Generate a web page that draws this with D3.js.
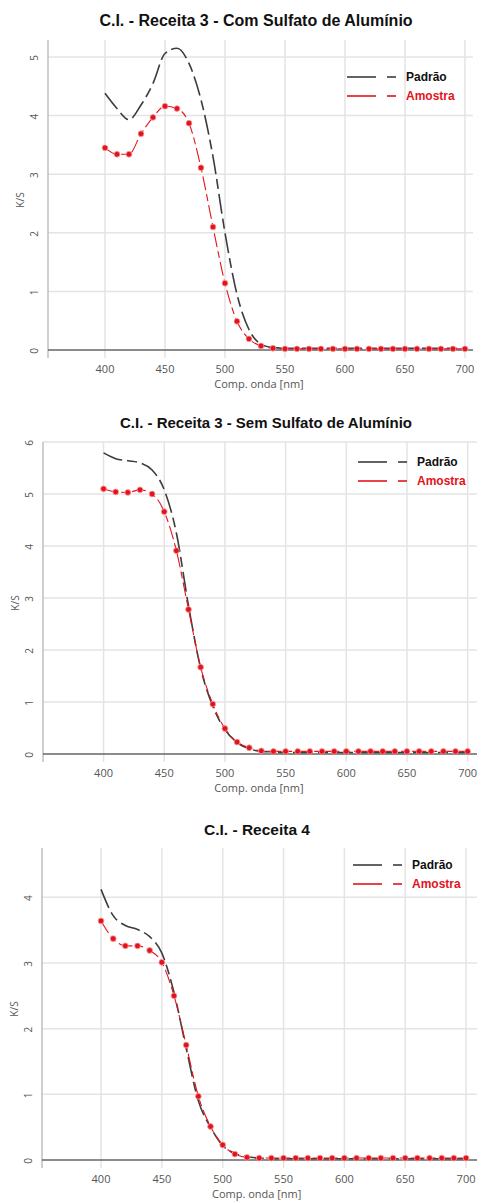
<!DOCTYPE html>
<html><head><meta charset="utf-8">
<script src="https://cdn.jsdelivr.net/npm/d3@7"></script>
<style>
body{margin:0;background:#fff;}
svg{display:block;}
</style></head>
<body>
<svg id="c" width="481" height="1203"></svg>
<script>
const wavelengths = d3.range(400, 701, 10);
const xTicks = [400, 450, 500, 550, 600, 650, 700];
const titles = ["C.I. - Receita 3 - Com Sulfato de Alumínio", "C.I. - Receita 3 - Sem Sulfato de Alumínio", "C.I. - Receita 4"];
const seriesNames = ["Padrão", "Amostra"];
const xLabel = "Comp. onda [nm]";
const yLabel = "K/S";

const padrao1 = [4.38,4.12,3.93,4.18,4.55,5.06,5.15,4.89,4.27,3.30,2.00,0.95,0.35,0.10,0.04,0.03,0.03,0.03,0.03,0.03,0.03,0.03,0.03,0.03,0.03,0.03,0.03,0.03,0.03,0.03,0.03];
const amostra1 = [3.45,3.34,3.34,3.69,3.97,4.16,4.12,3.87,3.11,2.10,1.14,0.49,0.19,0.07,0.03,0.02,0.02,0.02,0.02,0.02,0.02,0.02,0.02,0.02,0.02,0.02,0.02,0.02,0.02,0.02,0.02];
const yTicks1 = [0,1,2,3,4,5];

const padrao2 = [5.79,5.68,5.64,5.60,5.46,5.08,4.25,2.85,1.65,0.92,0.47,0.22,0.10,0.05,0.04,0.03,0.03,0.03,0.03,0.03,0.03,0.03,0.03,0.03,0.03,0.03,0.03,0.03,0.03,0.03,0.03];
const amostra2 = [5.10,5.04,5.03,5.08,5.00,4.66,3.91,2.78,1.67,0.96,0.49,0.23,0.12,0.06,0.05,0.05,0.05,0.05,0.05,0.05,0.05,0.05,0.05,0.05,0.05,0.05,0.05,0.05,0.05,0.05,0.05];
const yTicks2 = [0,1,2,3,4,5,6];

const padrao3 = [4.12,3.72,3.57,3.51,3.40,3.15,2.55,1.70,0.90,0.50,0.22,0.10,0.05,0.03,0.02,0.02,0.02,0.02,0.02,0.02,0.02,0.02,0.02,0.02,0.02,0.02,0.02,0.02,0.02,0.02,0.02];
const amostra3 = [3.64,3.37,3.26,3.26,3.19,3.01,2.50,1.75,0.97,0.51,0.23,0.09,0.04,0.03,0.03,0.03,0.03,0.03,0.03,0.03,0.03,0.03,0.03,0.03,0.03,0.03,0.03,0.03,0.03,0.03,0.03];
const yTicks3 = [0,1,2,3,4];

const charts = [
  {title: titles[0], padrao: padrao1, amostra: amostra1, yTicks: yTicks1,
   left: 48, right: 473, top: 40, zeroY: 350, xDom: [352.5, 706.7], yTop: 5.29,
   titleY: 26, titleX: 256, titleSize: 16, legX: 347, legY: 77},
  {title: titles[1], padrao: padrao2, amostra: amostra2, yTicks: yTicks2,
   left: 43, right: 477, top: 442, zeroY: 754, xDom: [350.1, 707.7], yTop: 6.0,
   titleY: 428, titleX: 266, titleSize: 15, legX: 358, legY: 462},
  {title: titles[2], padrao: padrao3, amostra: amostra3, yTicks: yTicks3,
   left: 42, right: 477, top: 848, zeroY: 1160, xDom: [351.5, 709], yTop: 4.75,
   titleY: 835, titleX: 257, titleSize: 15.5, legX: 353, legY: 865}
];

const svg = d3.select("#c");
const PAD_COLOR = "#3c3c3c", AMO_COLOR = "#e3131b";

charts.forEach(cfg => {
  const g = svg.append("g");
  const x = d3.scaleLinear().domain(cfg.xDom).range([cfg.left, cfg.right]);
  const y = d3.scaleLinear().domain([0, cfg.yTop]).range([cfg.zeroY, cfg.top]);
  const bottom = cfg.zeroY + 8;

  g.append("text").attr("x", cfg.titleX).attr("y", cfg.titleY)
    .attr("text-anchor", "middle").attr("font-family", "Liberation Sans, Arial, sans-serif")
    .attr("font-weight", "bold").attr("font-size", cfg.titleSize).attr("fill", "#111").text(cfg.title);

  g.selectAll(".vg").data(xTicks).enter().append("line")
    .attr("x1", d => x(d)).attr("x2", d => x(d)).attr("y1", cfg.top).attr("y2", bottom)
    .attr("stroke", "#e4e4e4").attr("stroke-width", 1.5);
  g.selectAll(".hg").data(cfg.yTicks.filter(t => t > 0)).enter().append("line")
    .attr("x1", cfg.left).attr("x2", cfg.right).attr("y1", d => y(d)).attr("y2", d => y(d))
    .attr("stroke", "#e4e4e4").attr("stroke-width", 1.5);

  g.append("line").attr("x1", cfg.left).attr("x2", cfg.left).attr("y1", cfg.top).attr("y2", bottom)
    .attr("stroke", "#b0b0b0").attr("stroke-width", 1.2);
  g.append("line").attr("x1", cfg.left).attr("x2", cfg.right).attr("y1", y(0)).attr("y2", y(0))
    .attr("stroke", "#666").attr("stroke-width", 1.5);

  g.selectAll(".yl").data(cfg.yTicks).enter().append("text")
    .attr("transform", d => `translate(${cfg.left - 10},${y(d) + 1}) rotate(-90)`)
    .attr("text-anchor", "middle").attr("font-family", "Open Sans, sans-serif")
    .attr("font-size", 10).attr("fill", "#555").text(d => d);

  g.selectAll(".xl").data(xTicks).enter().append("text")
    .attr("x", d => x(d)).attr("y", cfg.zeroY + 23)
    .attr("text-anchor", "middle").attr("font-family", "Open Sans, sans-serif")
    .attr("font-size", 11).attr("fill", "#555").text(d => d);

  g.append("text").attr("x", x(500) + 34).attr("y", cfg.zeroY + 38)
    .attr("text-anchor", "middle").attr("font-family", "Open Sans, sans-serif")
    .attr("font-size", 11).attr("fill", "#555").text(xLabel);

  g.append("text").attr("transform", `translate(${cfg.left - 24},${(cfg.top + cfg.zeroY) / 2 + 5}) rotate(-90)`)
    .attr("text-anchor", "middle").attr("font-family", "Open Sans, sans-serif")
    .attr("font-size", 10).attr("fill", "#555").text(yLabel);

  const line = d3.line().x(d => x(d[0])).y(d => y(d[1])).curve(d3.curveMonotoneX);
  const pd = wavelengths.map((w, i) => [w, cfg.padrao[i]]);
  const ad = wavelengths.map((w, i) => [w, cfg.amostra[i]]);

  g.append("path").attr("d", line(pd)).attr("fill", "none").attr("stroke", PAD_COLOR)
    .attr("stroke-width", 1.6).attr("stroke-dasharray", "20,5,10,5");
  g.append("path").attr("d", line(ad)).attr("fill", "none").attr("stroke", AMO_COLOR)
    .attr("stroke-width", 1.1).attr("stroke-dasharray", "14,4,7,4");
  g.selectAll(".dot").data(ad).enter().append("circle")
    .attr("cx", d => x(d[0])).attr("cy", d => y(d[1])).attr("r", 2.9)
    .attr("fill", AMO_COLOR).attr("stroke", "#f7a0a4").attr("stroke-width", 0.8);

  const cols = [PAD_COLOR, AMO_COLOR];
  seriesNames.forEach((name, i) => {
    const ly = cfg.legY + i * 19;
    g.append("line").attr("x1", cfg.legX).attr("x2", cfg.legX + 29).attr("y1", ly).attr("y2", ly)
      .attr("stroke", cols[i]).attr("stroke-width", 1.6);
    g.append("line").attr("x1", cfg.legX + 40).attr("x2", cfg.legX + 49).attr("y1", ly).attr("y2", ly)
      .attr("stroke", cols[i]).attr("stroke-width", 1.6);
    g.append("text").attr("x", cfg.legX + 59).attr("y", ly + 4)
      .attr("font-family", "Liberation Sans, Arial, sans-serif").attr("font-weight", "bold")
      .attr("font-size", 12).attr("fill", i === 0 ? "#111" : AMO_COLOR).text(name);
  });
});
</script>
</body></html>
